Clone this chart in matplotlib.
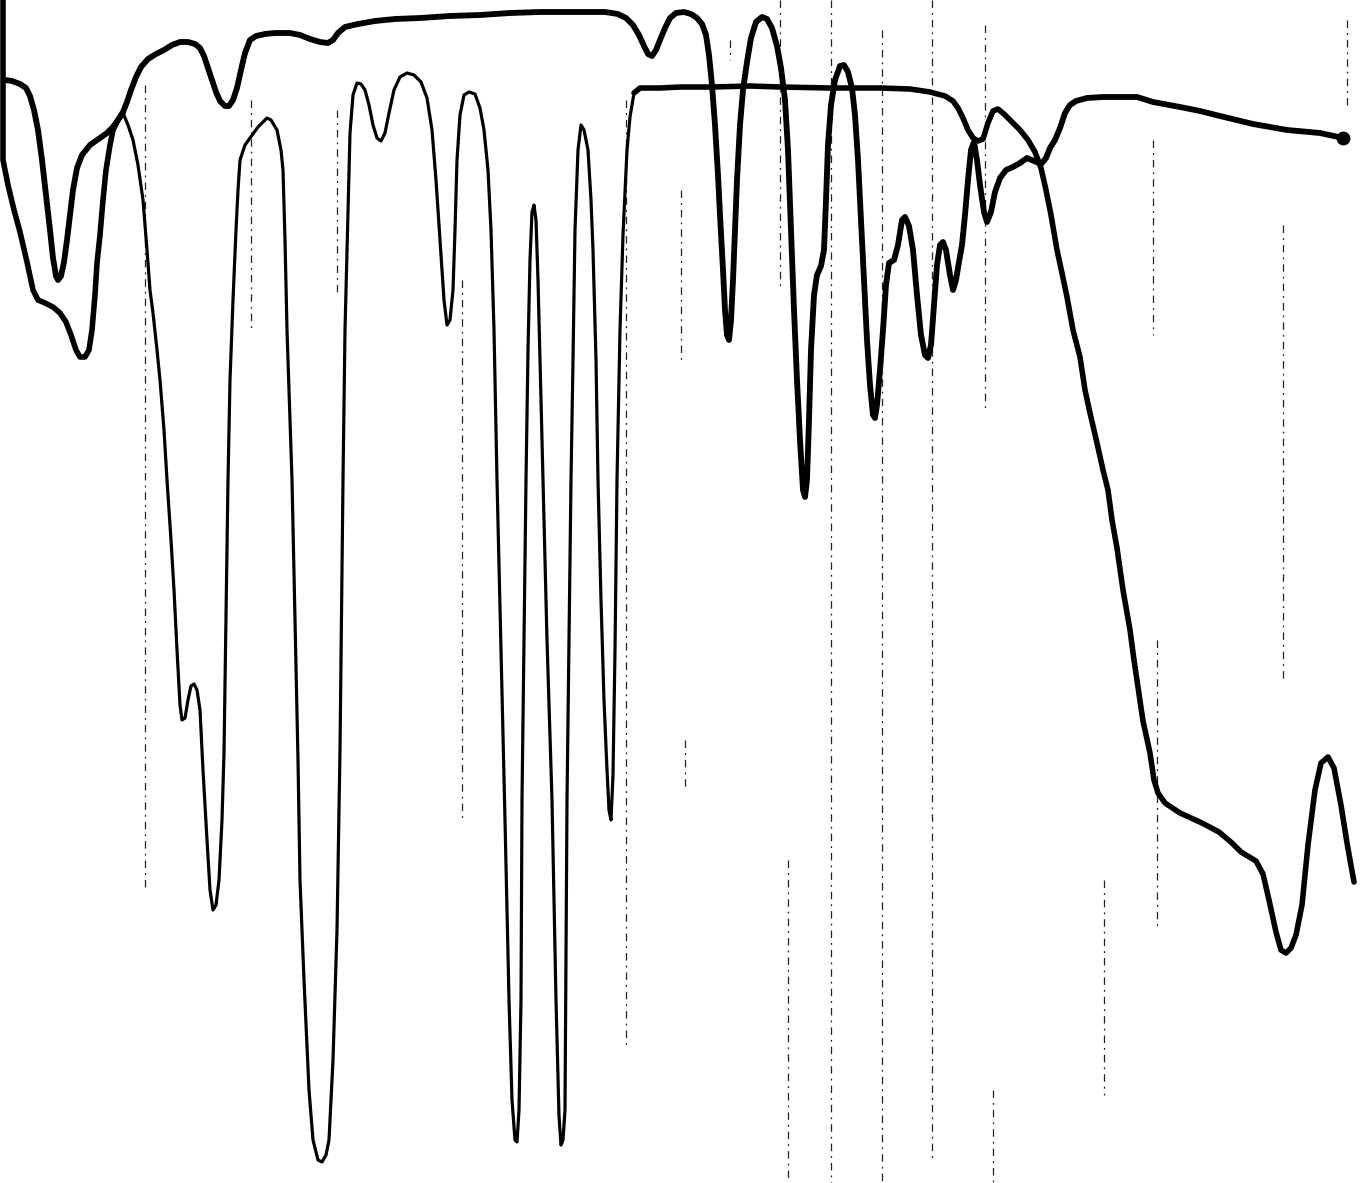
"""
Redraw of a scanned IR chart: two pen traces over a few broken grid lines.
Values are chart positions read off the scan (x along the paper, y = pen
deflection measured downwards from the top edge).
"""

import numpy as np
import matplotlib
matplotlib.use('Agg')
from matplotlib import pyplot as plt

# upper trace: weak absorber, sits near the top of the paper
upper_x = [5, 12, 20, 26, 30, 34, 38, 42, 46, 50, 53, 56, 58, 61, 64, 67, 70, 73, 77, 82,
           90, 100, 107, 113, 118, 123, 127, 131, 136, 141, 148, 156, 164, 172, 180, 188,
           195, 200, 204, 208, 212, 216, 220, 225, 229, 233, 237, 241, 245, 250, 256, 265,
           275, 290, 300, 310, 320, 328, 333, 338, 345, 358, 375, 395, 420, 450, 480, 510,
           540, 575, 605, 618, 626, 633, 639, 644, 648, 652, 656, 660, 665, 670, 676, 684,
           691, 697, 702, 706, 709, 712, 715, 718, 720, 723, 725, 727, 729, 731, 733, 735,
           737, 740, 743, 747, 751, 756, 762, 767, 772, 777, 781, 785, 788, 791, 794, 797,
           800, 803, 805, 807, 809, 811, 814, 817, 821, 824, 826, 828, 831, 835, 840, 844,
           848, 852, 855, 858, 861, 864, 867, 870, 873, 875, 877, 880, 883, 886, 889, 894,
           898, 902, 905, 909, 913, 917, 921, 925, 928, 931, 934, 937, 940, 943, 946, 950,
           953, 956, 959, 962, 965, 968, 971, 974, 977, 980, 984, 987, 991, 995, 1000, 1006,
           1013, 1020, 1027, 1034, 1041, 1046, 1050, 1055, 1060, 1065, 1070, 1076, 1087,
           1103, 1120, 1137, 1153, 1180, 1200, 1220, 1253, 1287, 1320, 1343]
upper_y = [80, 81, 84, 88, 96, 110, 130, 160, 195, 230, 258, 276, 280, 276, 262, 240, 215,
           190, 168, 155, 145, 138, 133, 127, 120, 112, 102, 90, 77, 67, 59, 54, 50, 45, 42,
           42, 44, 48, 56, 68, 80, 92, 101, 106, 106, 100, 88, 70, 53, 40, 36, 34, 33, 33,
           35, 39, 42, 43, 40, 33, 27, 24, 21, 19, 18, 16, 15, 13, 12, 12, 12, 14, 18, 25,
           35, 46, 54, 56, 50, 40, 28, 18, 13, 12, 14, 18, 24, 35, 55, 85, 125, 175, 215,
           270, 310, 335, 340, 320, 280, 230, 180, 125, 90, 62, 38, 22, 17, 19, 28, 46, 68,
           100, 150, 230, 310, 380, 440, 490, 497, 480, 420, 350, 295, 275, 266, 250, 200,
           145, 105, 80, 66, 65, 72, 88, 115, 160, 220, 280, 340, 385, 415, 418, 405, 370,
           330, 285, 263, 260, 245, 220, 217, 226, 250, 295, 335, 355, 358, 345, 305, 265,
           245, 242, 250, 275, 290, 280, 262, 245, 215, 180, 150, 142, 160, 185, 212, 222,
           212, 192, 178, 170, 167, 163, 158, 161, 164, 158, 148, 140, 128, 113, 105, 101,
           98, 97, 97, 97, 102, 107, 111, 116, 124, 130, 133, 138]

# lower trace: strong absorber with the deep bands
lower_x = [3, 3, 3, 8, 14, 20, 27, 33, 38, 45, 53, 60, 66, 71, 76, 80, 85, 89, 92, 95, 97,
           100, 103, 106, 110, 113, 118, 123, 128, 133, 138, 143, 147, 150, 153, 157, 160,
           164, 167, 171, 174, 177, 180, 182, 185, 188, 191, 194, 197, 200, 203, 207, 210,
           213, 216, 219, 222, 224, 226, 228, 230, 233, 236, 238, 240, 245, 250, 258, 267,
           271, 277, 281, 283, 285, 287, 290, 292, 295, 298, 300, 304, 309, 313, 318, 322,
           326, 329, 333, 337, 340, 343, 345, 347, 350, 353, 357, 361, 365, 369, 373, 377,
           381, 385, 389, 394, 400, 407, 414, 421, 427, 432, 436, 440, 444, 447, 450, 453,
           455, 457, 460, 464, 469, 475, 480, 484, 488, 491, 494, 497, 501, 505, 509, 512,
           515, 517, 519, 521, 522, 524, 526, 528, 530, 532, 534, 536, 538, 540, 543, 547,
           552, 556, 559, 561, 563, 565, 567, 569, 571, 573, 575, 578, 581, 584, 588, 591,
           593, 596, 598, 601, 604, 607, 609, 611, 613, 615, 617, 620, 623, 627, 630, 634,
           640, 660, 680, 713, 750, 780, 830, 880, 910, 930, 945, 953, 958, 963, 968, 973,
           978, 983, 988, 993, 998, 1004, 1011, 1020, 1028, 1035, 1041, 1046, 1051, 1057,
           1062, 1067, 1073, 1080, 1085, 1090, 1097, 1103, 1108, 1112, 1117, 1123, 1130,
           1134, 1139, 1143, 1150, 1154, 1158, 1165, 1180, 1202, 1219, 1232, 1241, 1256,
           1263, 1269, 1276, 1281, 1286, 1291, 1296, 1302, 1308, 1315, 1321, 1328, 1334,
           1341, 1347, 1354]
lower_y = [0, 80, 160, 185, 210, 232, 262, 290, 300, 303, 307, 313, 322, 335, 350, 357, 357,
           350, 330, 295, 263, 235, 200, 170, 145, 130, 120, 113, 125, 140, 165, 200, 250,
           290, 313, 350, 380, 430, 480, 540, 590, 650, 705, 720, 718, 700, 686, 684, 690,
           710, 770, 840, 890, 910, 905, 880, 820, 753, 620, 480, 380, 300, 230, 190, 160,
           145, 138, 127, 118, 120, 130, 150, 170, 240, 330, 420, 480, 620, 760, 880, 980,
           1090, 1140, 1160, 1162, 1155, 1140, 1060, 930, 750, 480, 330, 250, 133, 95, 83,
           84, 90, 105, 125, 138, 141, 133, 113, 90, 77, 73, 75, 82, 98, 130, 180, 240,
           300, 325, 320, 290, 230, 160, 115, 95, 92, 94, 108, 130, 170, 230, 330, 480,
           650, 820, 1000, 1100, 1140, 1142, 1110, 1000, 800, 640, 480, 350, 260, 212, 205,
           220, 280, 360, 480, 640, 800, 1000, 1116, 1145, 1140, 1110, 800, 640, 480, 360,
           230, 150, 125, 130, 150, 200, 250, 360, 480, 600, 700, 770, 810, 820, 775, 650,
           480, 330, 235, 150, 117, 93, 88, 88, 87, 87, 86, 87, 88, 88, 89, 92, 96, 101,
           108, 118, 130, 138, 141, 139, 123, 111, 109, 114, 121, 130, 140, 152, 168, 190,
           215, 250, 273, 297, 330, 357, 390, 413, 443, 470, 490, 520, 548, 590, 630, 660,
           694, 721, 753, 780, 793, 803, 813, 823, 832, 843, 852, 861, 874, 900, 932, 950,
           953, 948, 935, 905, 845, 790, 763, 757, 768, 805, 843, 882]

# broken vertical rulings left on the paper: position, top, bottom
grid_x = [145, 251, 337, 462, 626, 681, 685, 730, 780, 788, 831, 882, 932, 985, 993,
          1104, 1153, 1157, 1283, 1347]
grid_top = [85, 100, 110, 280, 100, 190, 740, 40, 0, 860, 0, 30, 0, 25, 1090,
            880, 140, 640, 225, 20]
grid_bottom = [890, 330, 295, 820, 1045, 360, 790, 60, 290, 1183, 1183, 1183, 1160, 410,
               1183, 1095, 335, 930, 680, 105]


def main():
    fig = plt.figure(figsize=(13.62, 11.83), dpi=100)
    ax = fig.add_axes([0, 0, 1, 1])

    ax.vlines(grid_x, grid_top, grid_bottom, colors='#222222', linewidth=0.9,
              linestyles=(0, (6, 4, 1.5, 4)))

    kw = dict(color='k', solid_joinstyle='round', solid_capstyle='round')
    ax.plot(upper_x, upper_y, linewidth=4.2, **kw)
    ax.plot(upper_x[-1], upper_y[-1], 'o', color='k', markersize=9)

    lx = np.array(lower_x)
    ly = np.array(lower_y)
    left = lx <= 123
    mid = (lx >= 123) & (lx <= 634)
    right = lx >= 634
    ax.plot(lx[left], ly[left], linewidth=4.0, **kw)
    ax.plot(lx[mid], ly[mid], linewidth=2.3, **kw)
    ax.plot(lx[right], ly[right], linewidth=4.0, **kw)

    ax.set_xlim(0, 1362)
    ax.set_ylim(1183, 0)
    ax.axis('off')
    fig.savefig('out.png', dpi=100, facecolor='white')


if __name__ == "__main__":
    main()
